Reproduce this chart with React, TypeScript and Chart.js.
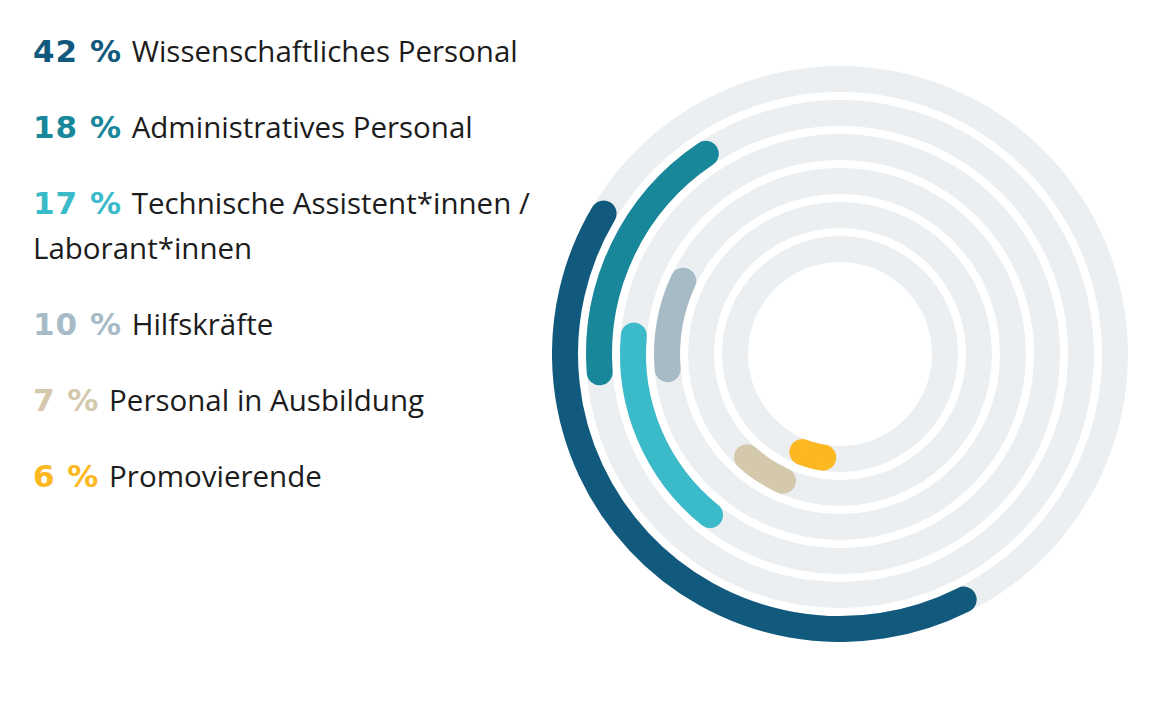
import Chart from 'chart.js/auto';
import { useEffect, useRef } from 'react';

// Personnel shares in percent, outer ring first
const shares = [42, 18, 17, 10, 7, 6];
const labels = [
  'Wissenschaftliches Personal',
  'Administratives Personal',
  'Technische Assistent*innen /\nLaborant*innen',
  'Hilfskräfte',
  'Personal in Ausbildung',
  'Promovierende',
];
const colors = ['#115a7d', '#18879a', '#3bbac9', '#a7bbc7', '#d4c8ad', '#fbb820'];
// start of each arc, degrees clockwise from 12 o'clock
const startAngles = [151.4, 263.5, 216.4, 262, 200.5, 184.3];

const TRACK = '#eceff2';
const CLEAR = 'rgba(0,0,0,0)';
const RING = 26;
const GAP = 8;
const CAP = 4; // stroke half-width that rounds and lengthens the arc ends
const SIZE = 576;
const HOLE = SIZE / 2 - (RING * shares.length + GAP * (shares.length - 1));

function buildDatasets(track: boolean) {
  const sets: any[] = [];
  if (!track) sets.push({ data: [1], backgroundColor: [CLEAR], weight: CAP, borderWidth: 0 });
  shares.forEach((v, i) => {
    if (i > 0) {
      sets.push({
        data: [1],
        backgroundColor: [CLEAR],
        weight: track ? GAP : GAP + 2 * CAP,
        borderWidth: 0,
      });
    }
    if (track) {
      sets.push({ data: [1], backgroundColor: [TRACK], weight: RING, borderWidth: 0 });
    } else {
      sets.push({
        data: [v, 100 - v],
        backgroundColor: [colors[i], CLEAR],
        borderColor: [colors[i], CLEAR],
        borderWidth: [CAP * 2, 0],
        borderJoinStyle: 'round',
        weight: RING - 2 * CAP,
        rotation: startAngles[i],
        borderRadius: RING / 2 - CAP,
      });
    }
  });
  if (!track) sets.push({ data: [1], backgroundColor: [CLEAR], weight: CAP, borderWidth: 0 });
  return sets;
}

function RingCanvas({ track }: { track: boolean }) {
  const canvasRef = useRef<HTMLCanvasElement | null>(null);

  useEffect(() => {
    if (!canvasRef.current) return;
    const chart = new Chart(canvasRef.current, {
      type: 'doughnut',
      data: { labels: shares.map((_, i) => String(i)), datasets: buildDatasets(track) },
      options: {
        responsive: false,
        animation: false,
        cutout: HOLE,
        layout: { padding: 0 },
        events: [],
        plugins: {
          legend: { display: false },
          tooltip: { enabled: false },
        },
      } as any,
    });
    return () => chart.destroy();
  }, [track]);

  return (
    <canvas
      ref={canvasRef}
      width={SIZE}
      height={SIZE}
      style={{ position: 'absolute', left: 0, top: 0, width: SIZE, height: SIZE }}
    />
  );
}

export default function App() {
  return (
    <div
      style={{
        position: 'absolute',
        left: 0,
        top: 0,
        width: 1155,
        height: 722,
        background: '#fff',
        fontFamily: '"Open Sans", "Noto Sans", sans-serif',
      }}
    >
      <div style={{ position: 'absolute', left: 33, top: 28, width: 540 }}>
        {shares.map((v, i) => (
          <div
            key={i}
            style={{
              fontSize: 29.5,
              lineHeight: '45px',
              height: i === 2 ? 90 : 45,
              marginBottom: 31,
              color: '#1c1c1c',
              whiteSpace: 'pre-line',
            }}
          >
            <span
              style={{
                color: colors[i],
                fontFamily: '"DejaVu Sans", sans-serif',
                fontWeight: 700,
                fontSize: 31,
                lineHeight: '10px',
                letterSpacing: 1,
                marginRight: 2,
              }}
            >
              {v} %
            </span>{' '}
            {labels[i]}
          </div>
        ))}
      </div>
      <div style={{ position: 'absolute', left: 552, top: 66, width: SIZE, height: SIZE }}>
        <RingCanvas track={true} />
        <RingCanvas track={false} />
      </div>
    </div>
  );
}
